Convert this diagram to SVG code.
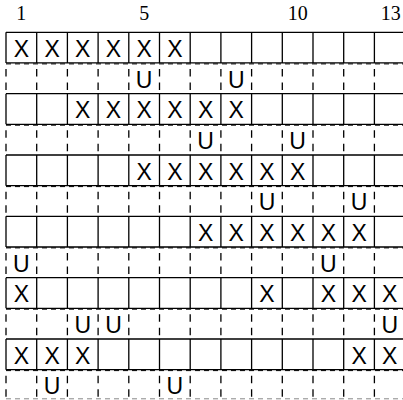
<svg xmlns="http://www.w3.org/2000/svg" width="403" height="400" viewBox="0 0 403 400">
<style>
.s{stroke:#000;stroke-width:1.3;fill:none}
.d{stroke:#000;stroke-width:1.3;fill:none;stroke-dasharray:7.5 6;stroke-dashoffset:7.5}
.h{stroke:#000;stroke-width:1;fill:none;stroke-dasharray:5 4}
.b{stroke:#888;stroke-width:1;fill:none;stroke-dasharray:5 4}
.c{font-family:"Liberation Sans",Arial,sans-serif;font-size:23px;text-anchor:middle;fill:#000}
.n{font-family:"Liberation Serif","Times New Roman",serif;font-size:20px;text-anchor:middle;fill:#000}
</style>
<g id="labels">
<text class="n" x="21.3" y="20">1</text>
<text class="n" x="144.2" y="20">5</text>
<text class="n" x="297.7" y="20">10</text>
<text class="n" x="390.8" y="20">13</text>
</g>
<g id="connectors">
<path class="h" d="M6 63.9H403M6 125.2H403M6 186.6H403M6 247.9H403M6 309.2H403M6 370.6H403"/>
<path class="b" d="M6 398.8H403"/>
<path class="s" d="M6 32.3H403M6 62.97H403M6 93.64H403M6 124.31H403M6 154.98H403M6 185.65H403M6 216.32H403M6 246.99H403M6 277.66H403M6 308.33H403M6 339H403M6 369.67H403"/>
<path class="s" d="M6 32.3V62.97M36.7 32.3V62.97M67.4 32.3V62.97M98.1 32.3V62.97M128.8 32.3V62.97M159.5 32.3V62.97M190.2 32.3V62.97M220.9 32.3V62.97M251.6 32.3V62.97M282.3 32.3V62.97M313 32.3V62.97M343.7 32.3V62.97M374.4 32.3V62.97
M6 93.64V124.31M36.7 93.64V124.31M67.4 93.64V124.31M98.1 93.64V124.31M128.8 93.64V124.31M159.5 93.64V124.31M190.2 93.64V124.31M220.9 93.64V124.31M251.6 93.64V124.31M282.3 93.64V124.31M313 93.64V124.31M343.7 93.64V124.31M374.4 93.64V124.31
M6 154.98V185.65M36.7 154.98V185.65M67.4 154.98V185.65M98.1 154.98V185.65M128.8 154.98V185.65M159.5 154.98V185.65M190.2 154.98V185.65M220.9 154.98V185.65M251.6 154.98V185.65M282.3 154.98V185.65M313 154.98V185.65M343.7 154.98V185.65M374.4 154.98V185.65
M6 216.32V246.99M36.7 216.32V246.99M67.4 216.32V246.99M98.1 216.32V246.99M128.8 216.32V246.99M159.5 216.32V246.99M190.2 216.32V246.99M220.9 216.32V246.99M251.6 216.32V246.99M282.3 216.32V246.99M313 216.32V246.99M343.7 216.32V246.99M374.4 216.32V246.99
M6 277.66V308.33M36.7 277.66V308.33M67.4 277.66V308.33M98.1 277.66V308.33M128.8 277.66V308.33M159.5 277.66V308.33M190.2 277.66V308.33M220.9 277.66V308.33M251.6 277.66V308.33M282.3 277.66V308.33M313 277.66V308.33M343.7 277.66V308.33M374.4 277.66V308.33
M6 339V369.67M36.7 339V369.67M67.4 339V369.67M98.1 339V369.67M128.8 339V369.67M159.5 339V369.67M190.2 339V369.67M220.9 339V369.67M251.6 339V369.67M282.3 339V369.67M313 339V369.67M343.7 339V369.67M374.4 339V369.67"/>
<path class="d" d="M6 62.97V93.64M36.7 62.97V93.64M67.4 62.97V93.64M98.1 62.97V93.64M128.8 62.97V93.64M159.5 62.97V93.64M190.2 62.97V93.64M220.9 62.97V93.64M251.6 62.97V93.64M282.3 62.97V93.64M313 62.97V93.64M343.7 62.97V93.64M374.4 62.97V93.64
M6 124.31V154.98M36.7 124.31V154.98M67.4 124.31V154.98M98.1 124.31V154.98M128.8 124.31V154.98M159.5 124.31V154.98M190.2 124.31V154.98M220.9 124.31V154.98M251.6 124.31V154.98M282.3 124.31V154.98M313 124.31V154.98M343.7 124.31V154.98M374.4 124.31V154.98
M6 185.65V216.32M36.7 185.65V216.32M67.4 185.65V216.32M98.1 185.65V216.32M128.8 185.65V216.32M159.5 185.65V216.32M190.2 185.65V216.32M220.9 185.65V216.32M251.6 185.65V216.32M282.3 185.65V216.32M313 185.65V216.32M343.7 185.65V216.32M374.4 185.65V216.32
M6 246.99V277.66M36.7 246.99V277.66M67.4 246.99V277.66M98.1 246.99V277.66M128.8 246.99V277.66M159.5 246.99V277.66M190.2 246.99V277.66M220.9 246.99V277.66M251.6 246.99V277.66M282.3 246.99V277.66M313 246.99V277.66M343.7 246.99V277.66M374.4 246.99V277.66
M6 308.33V339M36.7 308.33V339M67.4 308.33V339M98.1 308.33V339M128.8 308.33V339M159.5 308.33V339M190.2 308.33V339M220.9 308.33V339M251.6 308.33V339M282.3 308.33V339M313 308.33V339M343.7 308.33V339M374.4 308.33V339
M6 369.67V400.34M36.7 369.67V400.34M67.4 369.67V400.34M98.1 369.67V400.34M128.8 369.67V400.34M159.5 369.67V400.34M190.2 369.67V400.34M220.9 369.67V400.34M251.6 369.67V400.34M282.3 369.67V400.34M313 369.67V400.34M343.7 369.67V400.34M374.4 369.67V400.34"/>
</g>
<g id="row1"><text class="c" x="21.35" y="56.9">X</text><text class="c" x="52.05" y="56.9">X</text><text class="c" x="82.75" y="56.9">X</text><text class="c" x="113.45" y="56.9">X</text><text class="c" x="144.15" y="56.9">X</text><text class="c" x="174.85" y="56.9">X</text></g>
<g id="row2"><text class="c" x="144.15" y="87.6">U</text><text class="c" x="236.25" y="87.6">U</text></g>
<g id="row3"><text class="c" x="82.75" y="118.2">X</text><text class="c" x="113.45" y="118.2">X</text><text class="c" x="144.15" y="118.2">X</text><text class="c" x="174.85" y="118.2">X</text><text class="c" x="205.55" y="118.2">X</text><text class="c" x="236.25" y="118.2">X</text></g>
<g id="row4"><text class="c" x="205.55" y="148.9">U</text><text class="c" x="297.65" y="148.9">U</text></g>
<g id="row5"><text class="c" x="144.15" y="179.6">X</text><text class="c" x="174.85" y="179.6">X</text><text class="c" x="205.55" y="179.6">X</text><text class="c" x="236.25" y="179.6">X</text><text class="c" x="266.95" y="179.6">X</text><text class="c" x="297.65" y="179.6">X</text></g>
<g id="row6"><text class="c" x="266.95" y="210.3">U</text><text class="c" x="359.05" y="210.3">U</text></g>
<g id="row7"><text class="c" x="205.55" y="240.9">X</text><text class="c" x="236.25" y="240.9">X</text><text class="c" x="266.95" y="240.9">X</text><text class="c" x="297.65" y="240.9">X</text><text class="c" x="328.35" y="240.9">X</text><text class="c" x="359.05" y="240.9">X</text></g>
<g id="row8"><text class="c" x="21.35" y="271.6">U</text><text class="c" x="328.35" y="271.6">U</text></g>
<g id="row9"><text class="c" x="21.35" y="302.3">X</text><text class="c" x="266.95" y="302.3">X</text><text class="c" x="328.35" y="302.3">X</text><text class="c" x="359.05" y="302.3">X</text><text class="c" x="389.75" y="302.3">X</text></g>
<g id="row10"><text class="c" x="82.75" y="332.9">U</text><text class="c" x="113.45" y="332.9">U</text><text class="c" x="389.75" y="332.9">U</text></g>
<g id="row11"><text class="c" x="21.35" y="363.6">X</text><text class="c" x="52.05" y="363.6">X</text><text class="c" x="82.75" y="363.6">X</text><text class="c" x="359.05" y="363.6">X</text><text class="c" x="389.75" y="363.6">X</text></g>
<g id="row12"><text class="c" x="52.05" y="394.3">U</text><text class="c" x="174.85" y="394.3">U</text></g>
</svg>
